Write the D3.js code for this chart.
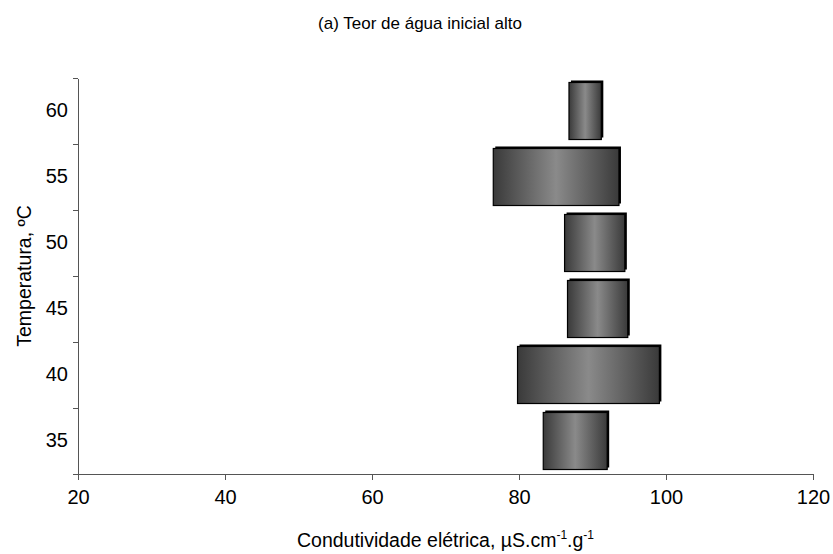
<!DOCTYPE html>
<html>
<head>
<meta charset="utf-8">
<script src="https://cdn.jsdelivr.net/npm/d3@7"></script>
<style>
  body { margin: 0; background: #fff; }
  text { font-family: "Liberation Sans", Arial, sans-serif; fill: #000; }
  .axis path, .axis line { stroke: #555; shape-rendering: crispEdges; }
</style>
</head>
<body>
<div id="chart"></div>
<script>
// temperature classes and the low / high end of each floating bar
var temps = ["35", "40", "45", "50", "55", "60"];
var lowValues = [83.3, 79.8, 86.6, 86.2, 76.5, 86.8];
var highValues = [92.0, 99.1, 94.8, 94.4, 93.6, 91.2];
var xTicks = [20, 40, 60, 80, 100, 120];

// set inner and outer width of svg
var margin = {top: 78, bottom: 80, left: 78, right: 20},
  width = 833 - margin.left - margin.right,
  height = 554 - margin.top - margin.bottom;

var svg = d3.select("#chart")
    .append("svg")
    .attr("width", width + margin.left + margin.right)
    .attr("height", height + margin.top + margin.bottom);

// gradient: dark edges, light centre
var grad = svg.append("defs").append("linearGradient")
    .attr("id", "barGrad")
    .attr("x1", "0%").attr("x2", "100%")
    .attr("y1", "0%").attr("y2", "0%");
grad.append("stop").attr("offset", "0%").attr("stop-color", "#3a3a3a");
grad.append("stop").attr("offset", "50%").attr("stop-color", "#8a8a8a");
grad.append("stop").attr("offset", "100%").attr("stop-color", "#3a3a3a");

var chart = svg.append("g")
    .attr("transform", "translate(" + margin.left + "," + margin.top + ")");

// scales
var x = d3.scaleLinear()
    .domain([20, 120])
    .range([0, width]);

var y = d3.scaleBand()
    .domain(temps)
    .range([height, 0])
    .paddingInner(0.136)
    .paddingOuter(0.068);

// edges of the categories, used for the tick marks
var yEdge = d3.scaleLinear()
    .domain([0, temps.length])
    .range([height, 0]);

// x axis
var xAxis = chart.append("g")
    .attr("class", "x axis")
    .attr("transform", "translate(0," + height + ")")
    .call(d3.axisBottom(x).tickValues(xTicks).tickSize(6).tickSizeOuter(6).tickPadding(10));
xAxis.selectAll("text").style("font-size", "20px");

// y axis tick marks between categories
chart.append("g")
    .attr("class", "y axis")
    .call(d3.axisLeft(yEdge).tickValues(d3.range(temps.length + 1)).tickFormat("").tickSize(5).tickSizeOuter(0));

// y axis labels in the middle of each category
var yLabels = chart.append("g")
    .attr("class", "y axis labels")
    .call(d3.axisLeft(y).tickSize(0).tickPadding(10));
yLabels.select(".domain").remove();
yLabels.selectAll("text").style("font-size", "20px");

// black shadow behind each bar
chart.selectAll(".shadow")
    .data(temps)
    .enter().append("rect")
    .attr("class", "shadow")
    .attr("x", function(d, i) { return x(lowValues[i]) + 2; })
    .attr("y", function(d) { return y(d) - 2; })
    .attr("width", function(d, i) { return x(highValues[i]) - x(lowValues[i]); })
    .attr("height", y.bandwidth())
    .style("fill", "#000");

// the bars
chart.selectAll(".bar")
    .data(temps)
    .enter().append("rect")
    .attr("class", "bar")
    .attr("x", function(d, i) { return x(lowValues[i]); })
    .attr("y", function(d) { return y(d); })
    .attr("width", function(d, i) { return x(highValues[i]) - x(lowValues[i]); })
    .attr("height", y.bandwidth())
    .style("fill", "url(#barGrad)")
    .style("stroke", "#000")
    .style("stroke-width", 1.2);

// title
svg.append("text")
    .attr("x", 420)
    .attr("y", 29)
    .style("text-anchor", "middle")
    .style("font-size", "17px")
    .text("(a) Teor de água inicial alto");

// x axis label with superscripts
var xLabel = svg.append("text")
    .attr("x", margin.left + width / 2)
    .attr("y", 547)
    .style("text-anchor", "middle")
    .style("font-size", "19.5px");
xLabel.append("tspan").text("Condutividade elétrica, µS.cm");
xLabel.append("tspan").attr("dy", -8).style("font-size", "12px").text("-1");
xLabel.append("tspan").attr("dy", 8).text(".g");
xLabel.append("tspan").attr("dy", -8).style("font-size", "12px").text("-1");

// y axis label
svg.append("text")
    .attr("transform", "rotate(-90)")
    .attr("x", -(margin.top + height / 2))
    .attr("y", 31)
    .style("text-anchor", "middle")
    .style("font-size", "19.5px")
    .text("Temperatura, ºC");
</script>
</body>
</html>
